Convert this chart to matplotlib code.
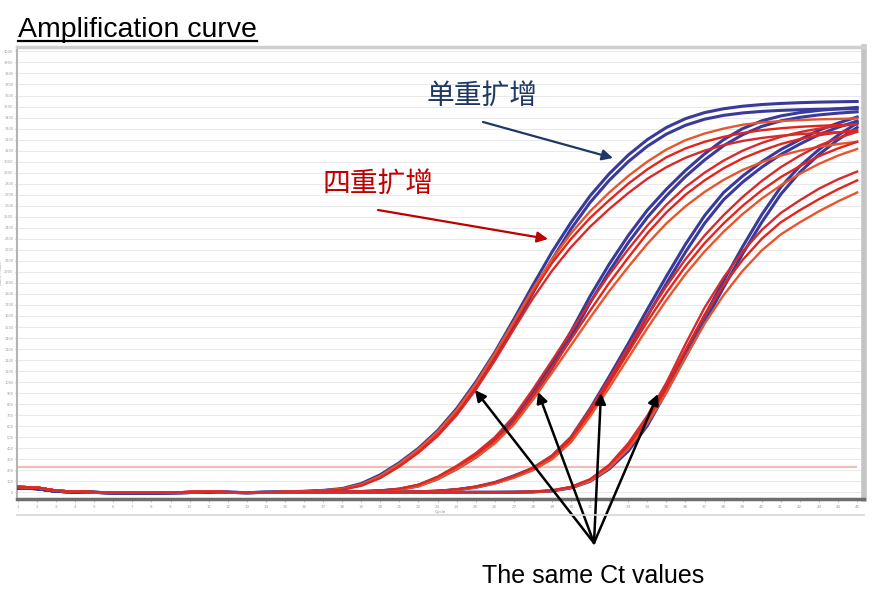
import matplotlib
matplotlib.use("Agg")
import matplotlib.pyplot as plt
import numpy as np
from matplotlib.lines import Line2D

# cycles 1..45, fluorescence
cycles = np.arange(1, 46)
threshold = 230

# cycles 1-14 (flat baseline)
base_blue = [40, 34, 10, 3, 0, -4, -5, -5, -3, -1, 2, 0, -2, 0]
base_red = [50, 44, 16, 6, 2, -2, -3, -3, 0, 3, 5, 2, 0, 1]

# cycles 15-45, single-plex (blue)
blue_g1a = [5, 10, 18, 35, 80, 160, 270, 400, 560, 760, 1000, 1270, 1570, 1880, 2180, 2450, 2690, 2890,
            3060, 3200, 3310, 3390, 3445, 3480, 3503, 3518, 3528, 3535, 3540, 3543, 3546]
blue_g1b = [4, 8, 15, 30, 70, 140, 245, 370, 525, 715, 950, 1210, 1500, 1810, 2110, 2390, 2630, 2830,
            3000, 3140, 3250, 3330, 3385, 3420, 3442, 3456, 3465, 3471, 3475, 3478, 3480]
blue_g2a = [0, 0, 2, 4, 8, 15, 30, 65, 135, 230, 340, 480, 660, 900, 1170, 1460, 1780, 2070, 2330,
            2560, 2750, 2920, 3070, 3200, 3300, 3370, 3415, 3445, 3465, 3480, 3492]
blue_g2b = [0, 0, 1, 3, 7, 13, 27, 58, 122, 212, 318, 452, 625, 860, 1125, 1410, 1720, 2005, 2265,
            2495, 2690, 2865, 3015, 3145, 3245, 3320, 3370, 3402, 3424, 3440, 3452]
blue_g3a = [0, 0, 0, 0, 1, 2, 3, 5, 12, 25, 50, 90, 150, 220, 330, 500, 760, 1050, 1350, 1660, 1960,
            2250, 2510, 2720, 2870, 3000, 3110, 3200, 3285, 3350, 3405]
blue_g3b = [0, 0, 0, 0, 1, 2, 3, 5, 11, 23, 46, 84, 140, 208, 312, 475, 725, 1005, 1300, 1600, 1895,
            2180, 2440, 2655, 2815, 2950, 3065, 3160, 3245, 3312, 3368]
blue_g4a = [0, 0, 0, 0, 0, 0, 0, 0, 0, 0, 1, 1, 2, 5, 15, 45, 110, 230, 400, 640, 960, 1280, 1600,
            1920, 2230, 2520, 2770, 2960, 3110, 3240, 3350]
blue_g4b = [0, 0, 0, 0, 0, 0, 0, 0, 0, 0, 1, 1, 2, 4, 13, 40, 100, 212, 375, 605, 915, 1230, 1545,
            1860, 2165, 2450, 2705, 2905, 3065, 3200, 3310]

# cycles 15-45, four-plex (red)
red_g1a = [5, 8, 15, 28, 65, 140, 250, 380, 535, 730, 965, 1240, 1530, 1820, 2080, 2300, 2490, 2650,
           2800, 2930, 3040, 3120, 3180, 3225, 3260, 3285, 3303, 3316, 3325, 3332, 3338]
red_g1b = [6, 9, 17, 32, 72, 150, 262, 392, 550, 748, 985, 1260, 1550, 1845, 2115, 2350, 2550, 2720,
           2870, 3000, 3110, 3195, 3255, 3300, 3335, 3355, 3368, 3377, 3384, 3388, 3392]
red_g1c = [4, 7, 13, 25, 60, 130, 235, 360, 510, 700, 930, 1195, 1480, 1760, 2010, 2225, 2410, 2570,
           2715, 2845, 2950, 3035, 3100, 3150, 3188, 3215, 3235, 3250, 3260, 3267, 3272]
red_g2a = [0, 0, 2, 4, 8, 12, 28, 60, 130, 225, 335, 470, 645, 880, 1130, 1390, 1650, 1900, 2130,
           2350, 2540, 2700, 2830, 2940, 3030, 3100, 3160, 3205, 3240, 3265, 3285]
red_g2b = [0, 0, 1, 3, 6, 11, 25, 55, 120, 210, 315, 445, 615, 840, 1085, 1335, 1585, 1825, 2045,
           2255, 2440, 2595, 2725, 2835, 2925, 2995, 3055, 3100, 3135, 3160, 3180]
red_g2c = [0, 1, 3, 5, 10, 16, 33, 70, 142, 240, 355, 500, 690, 935, 1195, 1460, 1725, 1975, 2205,
           2420, 2610, 2770, 2900, 3010, 3100, 3170, 3225, 3268, 3300, 3323, 3340]
red_g3a = [0, 0, 0, 0, 1, 2, 3, 5, 12, 25, 48, 85, 140, 210, 315, 475, 720, 990, 1270, 1550, 1810,
           2050, 2260, 2440, 2600, 2740, 2860, 2960, 3050, 3120, 3180]
red_g3b = [0, 0, 0, 0, 1, 2, 3, 4, 10, 22, 44, 80, 132, 200, 300, 455, 690, 950, 1220, 1490, 1745,
           1980, 2185, 2365, 2525, 2665, 2785, 2890, 2980, 3055, 3115]
red_g3c = [0, 0, 0, 1, 2, 3, 4, 6, 13, 27, 52, 90, 148, 222, 332, 500, 755, 1030, 1320, 1605, 1870,
           2115, 2330, 2515, 2680, 2825, 2950, 3055, 3145, 3215, 3270]
red_g4a = [0, 0, 0, 0, 0, 0, 0, 0, 0, 0, 1, 1, 2, 5, 15, 45, 110, 235, 420, 660, 950, 1290, 1610,
           1880, 2110, 2300, 2450, 2560, 2660, 2750, 2830]
red_g4b = [0, 0, 0, 0, 0, 0, 0, 0, 0, 0, 1, 1, 2, 4, 13, 42, 102, 220, 395, 625, 905, 1225, 1530,
           1790, 2010, 2195, 2340, 2450, 2550, 2640, 2720]
red_g4c = [0, 0, 0, 0, 0, 0, 0, 0, 0, 0, 1, 2, 3, 6, 18, 50, 120, 250, 445, 695, 995, 1345, 1675,
           1950, 2185, 2380, 2535, 2650, 2755, 2840, 2910]

blue_curves = [blue_g1a, blue_g1b, blue_g2a, blue_g2b, blue_g3a, blue_g3b, blue_g4a, blue_g4b]
red_curves = [red_g1a, red_g1b, red_g1c, red_g2a, red_g2b, red_g2c,
              red_g3a, red_g3b, red_g3c, red_g4a, red_g4b, red_g4c]
red_shades = ["#e3241b", "#e8552c", "#d82a2a"]

W, H = 872, 606
fig = plt.figure(figsize=(W / 100, H / 100), dpi=100)
ax = fig.add_axes([17 / W, 1 - 499 / H, (864 - 17) / W, (499 - 47) / H])

for vals in blue_curves:
    ax.plot(cycles, np.array(base_blue + vals), color="#3a3a9c", lw=2.2, zorder=3)
for i, vals in enumerate(red_curves):
    ax.plot(cycles, np.array(base_red + vals), color=red_shades[i % 3], lw=1.7, zorder=3)

ax.hlines(threshold, cycles[0], cycles[-1], color="#f1bdb6", lw=1.6, zorder=2)

ax.set_xlim(0.95, 45.36)
ax.set_ylim(-60, 4040)
ax.set_xticks(cycles)
ax.set_yticks(np.arange(0, 4001, 100))
ax.tick_params(labelsize=3, colors="#a0a0a0", length=2, pad=2, width=0.5)
ax.tick_params(axis="y", labelsize=2.6, length=1.5, pad=1)
ax.yaxis.grid(True, color="#e9e9e9", lw=0.7)
ax.set_axisbelow(True)
ax.set_xlabel("Cycle", fontsize=3, color="#909090", labelpad=1)
ax.set_ylabel("Norm. Fluoro.", fontsize=2.6, color="#909090")
ax.yaxis.set_label_coords(-0.0165, 0.5)

ax.spines["left"].set_color("#b4b4b4")
ax.spines["left"].set_linewidth(1.5)
ax.spines["top"].set_color("#cfcfcf")
ax.spines["top"].set_linewidth(2.5)
ax.spines["right"].set_color("#c4c4c4")
ax.spines["right"].set_linewidth(4)
ax.spines["bottom"].set_color("#6e6e6e")
ax.spines["bottom"].set_linewidth(2.5)

# light frame line below the tick labels
fig.add_artist(Line2D([17 / W, 864 / W], [1 - 515 / H, 1 - 515 / H], color="#d6d6d6", lw=1.2))


def fp(x, y):
    return (x / W, 1 - y / H)


# title with underline
title = fig.text(*fp(18, 37), "Amplification curve", fontsize=20.5, family="Liberation Sans",
                 va="baseline", ha="left")
fig.canvas.draw()
bb = title.get_window_extent()
fig.add_artist(Line2D([bb.x0 / W, bb.x1 / W], [1 - 41 / H, 1 - 41 / H], color="black", lw=1.6))

cjk = ["Noto Sans CJK SC", "DejaVu Sans"]
fig.text(*fp(482, 97), "单重扩增", fontsize=20, family=cjk, color="#1f3864", ha="center", va="center")
fig.text(*fp(378, 185), "四重扩增", fontsize=20, family=cjk, color="#c00000", ha="center", va="center")

ax.annotate("", xy=fp(613, 158), xycoords="figure fraction", xytext=fp(483, 122),
            textcoords="figure fraction",
            arrowprops=dict(arrowstyle="-|>", color="#1f3864", lw=1.6, mutation_scale=16,
                            shrinkA=0, shrinkB=0))
ax.annotate("", xy=fp(548, 239), xycoords="figure fraction", xytext=fp(378, 210),
            textcoords="figure fraction",
            arrowprops=dict(arrowstyle="-|>", color="#c00000", lw=1.6, mutation_scale=16,
                            shrinkA=0, shrinkB=0))

for tip in [(475, 390), (538, 392), (601, 393), (658, 394)]:
    ax.annotate("", xy=fp(*tip), xycoords="figure fraction", xytext=fp(594, 543),
                textcoords="figure fraction", annotation_clip=False,
                arrowprops=dict(arrowstyle="-|>", color="black", lw=1.8, mutation_scale=16,
                                shrinkA=0, shrinkB=0))

fig.text(*fp(593, 583), "The same Ct values", fontsize=18, family="Liberation Sans",
         ha="center", va="baseline")

fig.savefig("out.png", dpi=100)
